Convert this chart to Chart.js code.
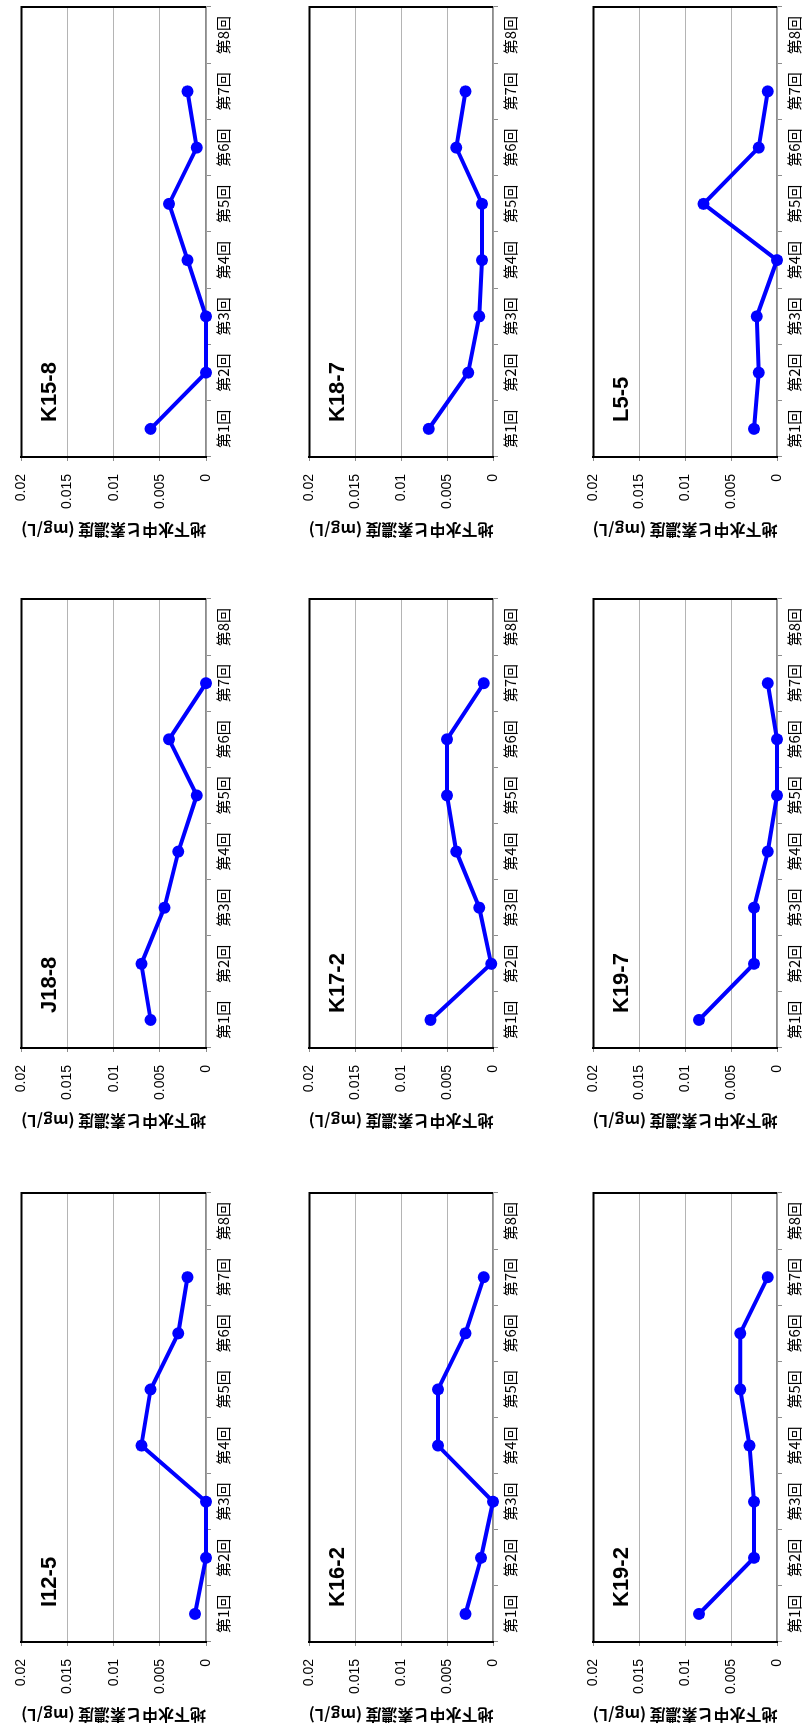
<!DOCTYPE html>
<html>
<head>
<meta charset="utf-8">
<script src="https://cdn.jsdelivr.net/npm/chart.js@4.4.1/dist/chart.umd.min.js"></script>
<style>
  html, body { margin: 0; padding: 0; background: #fff; }
  body { width: 806px; height: 1729px; overflow: hidden; position: relative; }
  /* the sheet is laid out landscape and turned a quarter to the left */
  #page {
    position: absolute; left: 0; top: 0;
    width: 1729px; height: 806px;
    transform-origin: 0 0;
    transform: translateY(1729px) rotate(-90deg);
  }
  .cell { position: absolute; }
</style>
</head>
<body>
<div id="page"></div>
<script>
// categories and axis ticks
const rounds = ['第1回', '第2回', '第3回', '第4回', '第5回', '第6回', '第7回', '第8回'];
const yTickLabels = ['0', '0.005', '0.01', '0.015', '0.02'];
const yTitle = '地下水中ヒ素濃度 (mg/L)';

// arsenic in groundwater, mg/L, per well
const valsI12_5 = [0.0012, 0, 0, 0.007, 0.006, 0.003, 0.002, null];
const valsJ18_8 = [0.006, 0.007, 0.0045, 0.003, 0.001, 0.004, 0, null];
const valsK15_8 = [0.006, 0, 0, 0.002, 0.004, 0.001, 0.002, null];
const valsK16_2 = [0.003, 0.0013, 0, 0.006, 0.006, 0.003, 0.001, null];
const valsK17_2 = [0.0068, 0.0002, 0.0015, 0.004, 0.005, 0.005, 0.001, null];
const valsK18_7 = [0.007, 0.0027, 0.0015, 0.0012, 0.0012, 0.004, 0.003, null];
const valsK19_2 = [0.0085, 0.0025, 0.0025, 0.003, 0.004, 0.004, 0.001, null];
const valsK19_7 = [0.0085, 0.0025, 0.0025, 0.001, 0, 0, 0.001, null];
const valsL5_5 = [0.0025, 0.002, 0.0022, 0, 0.008, 0.002, 0.001, null];

// where each plot box sits on the (unrotated) sheet: x0, y0, x1, y1
const charts = [
    { name: 'I12-5', vals: valsI12_5, box: [87, 14, 536, 206] },
    { name: 'J18-8', vals: valsJ18_8, box: [681, 14, 1130, 206] },
    { name: 'K15-8', vals: valsK15_8, box: [1272, 14, 1722, 206] },
    { name: 'K16-2', vals: valsK16_2, box: [87, 302, 536, 493] },
    { name: 'K17-2', vals: valsK17_2, box: [681, 302, 1130, 493] },
    { name: 'K18-7', vals: valsK18_7, box: [1272, 302, 1722, 493] },
    { name: 'K19-2', vals: valsK19_2, box: [87, 586, 536, 777] },
    { name: 'K19-7', vals: valsK19_7, box: [681, 586, 1130, 777] },
    { name: 'L5-5', vals: valsL5_5, box: [1272, 586, 1722, 777] }
];

const AXIS_W = 87;   // room left of the plot for ticks + title
const PAD_TOP = 14;
const PAD_RIGHT = 7;
const LABELS_H = 30; // room under the plot for the round labels

const numFont = { family: '"Liberation Sans", sans-serif', size: 14 };
const jpFont = { family: '"Noto Sans CJK JP", sans-serif', size: 15 };

// black frame on the top and right, plus the well name inside the plot
const framePlugin = {
    id: 'frame',
    beforeDatasetsDraw(chart, args, opts) {
        const { ctx, chartArea: a } = chart;
        ctx.save();
        ctx.strokeStyle = '#000';
        ctx.lineWidth = 2;
        ctx.beginPath();
        ctx.moveTo(a.left, a.top);
        ctx.lineTo(a.right, a.top);
        ctx.lineTo(a.right, a.bottom);
        ctx.stroke();
        ctx.fillStyle = '#000';
        ctx.font = 'bold 22px "Liberation Sans", sans-serif';
        ctx.textBaseline = 'alphabetic';
        ctx.fillText(opts.name, a.left + 35, a.top + 35);
        ctx.restore();
    }
};

function makeChart(c) {
    const [x0, y0, x1, y1] = c.box;
    const w = AXIS_W + (x1 - x0) + PAD_RIGHT;
    const h = PAD_TOP + (y1 - y0) + LABELS_H;

    const cell = document.createElement('div');
    cell.className = 'cell';
    cell.style.left = (x0 - AXIS_W) + 'px';
    cell.style.top = (y0 - PAD_TOP) + 'px';
    const canvas = document.createElement('canvas');
    canvas.width = w;
    canvas.height = h;
    canvas.style.width = w + 'px';
    canvas.style.height = h + 'px';
    cell.appendChild(canvas);
    document.getElementById('page').appendChild(cell);

    new Chart(canvas.getContext('2d'), {
        type: 'line',
        data: {
            labels: rounds,
            datasets: [{
                data: c.vals,
                borderColor: '#0000ff',
                backgroundColor: '#0000ff',
                borderWidth: 4,
                pointRadius: 6,
                pointHoverRadius: 6,
                pointBorderWidth: 0,
                tension: 0,
                clip: false
            }]
        },
        options: {
            responsive: false,
            animation: false,
            events: [],
            layout: { padding: { top: PAD_TOP, right: PAD_RIGHT, left: 0, bottom: 0 } },
            plugins: {
                legend: { display: false },
                tooltip: { enabled: false },
                frame: { name: c.name }
            },
            scales: {
                x: {
                    offset: true,
                    grid: {
                        display: true,
                        offset: true,
                        drawOnChartArea: false,
                        drawTicks: true,
                        tickLength: 5,
                        color: '#8c8c8c'
                    },
                    border: { display: true, color: '#8c8c8c', width: 1.5 },
                    ticks: {
                        color: '#000',
                        font: jpFont,
                        padding: 3,
                        autoSkip: false,
                        maxRotation: 0,
                        minRotation: 0
                    },
                    afterFit: s => { s.height = LABELS_H; }
                },
                y: {
                    min: 0,
                    max: 0.02,
                    ticks: {
                        stepSize: 0.005,
                        color: '#000',
                        font: numFont,
                        padding: 13,
                        callback: (v, i) => yTickLabels[i]
                    },
                    grid: {
                        color: '#b4b4b4',
                        lineWidth: 1,
                        drawTicks: true,
                        tickLength: 4,
                        tickColor: '#8c8c8c'
                    },
                    border: { display: true, color: '#000', width: 2 },
                    title: {
                        display: true,
                        text: yTitle,
                        color: '#000',
                        font: { family: '"Noto Sans CJK JP", sans-serif', size: 16, weight: 'bold' },
                        padding: { top: 4, bottom: 0 }
                    },
                    afterFit: s => { s.width = AXIS_W; }
                }
            }
        },
        plugins: [framePlugin]
    });
}

charts.forEach(makeChart);
</script>
</body>
</html>
